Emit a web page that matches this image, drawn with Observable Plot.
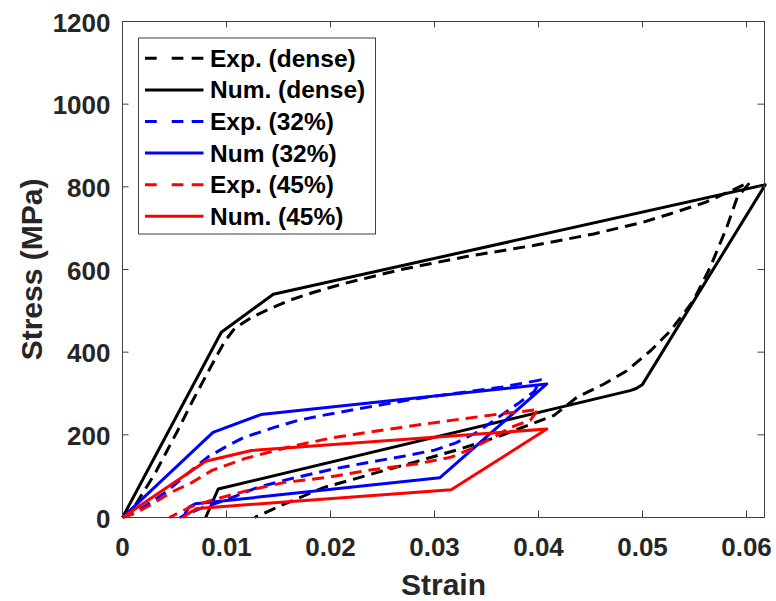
<!DOCTYPE html>
<html>
<head>
<meta charset="utf-8">
<script src="https://cdn.jsdelivr.net/npm/d3@7"></script>
<script src="https://cdn.jsdelivr.net/npm/@observablehq/plot@0.6"></script>
<style>
  html, body { margin: 0; padding: 0; background: #fff; }
  #wrap { position: relative; width: 776px; height: 601px; }
  #wrap svg { display: block; }
  #legend { position: absolute; left: 0; top: 0; pointer-events: none; }
</style>
</head>
<body>
<div id="wrap"></div>
<script>
// ---- data ----
const xTicks = [0, 0.01, 0.02, 0.03, 0.04, 0.05, 0.06];
const yTicks = [0, 200, 400, 600, 800, 1000, 1200];

const seriesNames = ["Exp. (dense)", "Num. (dense)", "Exp. (32%)", "Num (32%)", "Exp. (45%)", "Num. (45%)"];
const seriesColors = ["#000000", "#000000", "#0000ff", "#0000ff", "#ff0000", "#ff0000"];
const seriesDashed = [true, false, true, false, true, false];

const expDenseStrain = [0, 0.0008, 0.0032, 0.0053, 0.0068, 0.0085, 0.0098, 0.0108, 0.0124, 0.0140, 0.0160, 0.0184, 0.0213, 0.0268, 0.0332, 0.0395, 0.0453, 0.0500, 0.0527, 0.0560, 0.0585, 0.0598, 0.0603,
  0.0597, 0.0591, 0.0581, 0.0565, 0.0549, 0.0527, 0.0508, 0.0485, 0.0463, 0.0437, 0.0415, 0.0364, 0.0325, 0.0281, 0.0252, 0.0217, 0.0194, 0.0156, 0.0127];
const expDenseStress = [0, 12, 110, 210, 285, 365, 425, 458, 484, 503, 525, 545, 566, 600, 632, 658, 686, 714, 735, 762, 790, 806, 810,
  792, 774, 702, 605, 525, 452, 404, 355, 323, 291, 247, 198, 166, 134, 114, 89, 73, 33, 0];

const numDenseStrain = [0, 0.0095, 0.0145, 0.0618, 0.0500, 0.0494, 0.0488, 0.0092, 0.0080];
const numDenseStress = [0, 448, 540, 805, 322, 312, 307, 69, 0];

const exp32Strain = [0, 0.0020, 0.0042, 0.0062, 0.0082, 0.0100, 0.0117, 0.0146, 0.0169, 0.0188, 0.0236, 0.0281, 0.0325, 0.0364, 0.0396, 0.0402,
  0.0396, 0.0380, 0.0360, 0.0340, 0.0320, 0.0300, 0.0270, 0.0240, 0.0204, 0.0162, 0.0130, 0.0098, 0.0075, 0.0055];
const exp32Stress = [0, 25, 62, 105, 146, 172, 194, 218, 235, 245, 267, 287, 302, 315, 330, 333,
  305, 275, 240, 205, 180, 163, 148, 135, 118, 94, 73, 41, 22, 0];

const num32Strain = [0, 0.0087, 0.0133, 0.0408, 0.0305, 0.0070, 0.0064, 0.0058];
const num32Stress = [0, 206, 249, 323, 96, 33, 25, 0];

const exp45Strain = [0, 0.0010, 0.0026, 0.0047, 0.0067, 0.0086, 0.0117, 0.0159, 0.0200, 0.0233, 0.0268, 0.0316, 0.0364, 0.0396, 0.0400,
  0.0392, 0.0373, 0.0357, 0.0335, 0.0316, 0.0284, 0.0236, 0.0197, 0.0156, 0.0120, 0.0090, 0.0065, 0.0045];
const exp45Stress = [0, 8, 29, 61, 85, 114, 142, 170, 192, 205, 218, 235, 251, 260, 263,
  235, 218, 194, 166, 146, 130, 114, 97, 85, 65, 45, 25, 0];

const num45Strain = [0, 0.0080, 0.0124, 0.0408, 0.0316, 0.0072, 0.0066, 0.0058];
const num45Stress = [0, 136, 162, 214, 67, 22, 14, 0];

const strainLists = [expDenseStrain, numDenseStrain, exp32Strain, num32Strain, exp45Strain, num45Strain];
const stressLists = [expDenseStress, numDenseStress, exp32Stress, num32Stress, exp45Stress, num45Stress];

// ---- build ----
const W = 776, H = 601, mL = 122, mR = 12, mT = 21, mB = 84;
const innerW = W - mL - mR, innerH = H - mT - mB;
const tickLen = 6.5;
const axisColor = "#404040";
const textColor = "#262626";
const dashPattern = "12,7";
const fontStack = "'Liberation Sans', Arial, Helvetica, sans-serif";

const series = seriesNames.map((name, i) => ({
  name,
  color: seriesColors[i],
  dashed: seriesDashed[i],
  points: strainLists[i].map((s, j) => ({strain: s, stress: stressLists[i][j]}))
}));

const lineMarks = series.map(s => Plot.line(s.points, {
  x: "strain", y: "stress",
  stroke: s.color, strokeWidth: 3,
  strokeDasharray: s.dashed ? dashPattern : null,
  strokeLinejoin: "round", strokeLinecap: "butt"
}));

const chart = Plot.plot({
  width: W, height: H,
  marginLeft: mL, marginRight: mR, marginTop: mT, marginBottom: mB,
  style: {fontFamily: fontStack, background: "#fff", color: textColor},
  x: {domain: [0, 0.06173], label: null},
  y: {domain: [0, 1200], label: null},
  marks: [
    Plot.axisX(xTicks, {tickSize: 0, tickPadding: 20.5, fontSize: 26, fontWeight: "bold", fill: textColor, tickFormat: d => String(d), label: null}),
    Plot.axisY(yTicks, {tickSize: 0, tickPadding: 12, fontSize: 26, fontWeight: "bold", fill: textColor, dy: 2, tickFormat: d => String(d), label: null}),
    ...lineMarks,
    Plot.ruleX(xTicks, {x: d => d, insetTop: innerH - tickLen, stroke: axisColor, strokeWidth: 1}),
    Plot.ruleX(xTicks, {x: d => d, insetBottom: innerH - tickLen, stroke: axisColor, strokeWidth: 1}),
    Plot.ruleY(yTicks, {y: d => d, insetRight: innerW - tickLen, stroke: axisColor, strokeWidth: 1}),
    Plot.ruleY(yTicks, {y: d => d, insetLeft: innerW - tickLen, stroke: axisColor, strokeWidth: 1}),
    Plot.frame({stroke: axisColor, strokeWidth: 1}),
    Plot.text(["Strain"], {text: d => d, frameAnchor: "bottom", textAnchor: "middle", lineAnchor: "bottom", dy: 77, fontSize: 30, fontWeight: "bold", fill: textColor}),
    Plot.text(["Stress (MPa)"], {text: d => d, frameAnchor: "left", textAnchor: "middle", rotate: -90, lineAnchor: "bottom", dx: -80.5, fontSize: 30, fontWeight: "bold", fill: textColor})
  ]
});

const wrap = document.getElementById("wrap");
wrap.appendChild(chart);

// ---- legend overlay ----
const leg = d3.select(wrap).append("svg")
  .attr("id", "legend").attr("width", W).attr("height", H);
const box = {x: 138.5, y: 38, w: 237, h: 196};
leg.append("rect").attr("x", box.x).attr("y", box.y).attr("width", box.w).attr("height", box.h)
  .attr("fill", "#fff").attr("stroke", axisColor).attr("stroke-width", 1);
series.forEach((s, i) => {
  const y = 58.3 + i * 31.6;
  leg.append("line").attr("x1", 145).attr("x2", 203.5).attr("y1", y).attr("y2", y)
    .attr("stroke", s.color).attr("stroke-width", 3)
    .attr("stroke-dasharray", s.dashed ? "11.7,15,11.7,8.3,11.7" : null);
  leg.append("text").attr("x", 210).attr("y", y + 8.5)
    .attr("font-family", fontStack)
    .attr("font-size", 24.5).attr("font-weight", "bold").attr("fill", "#000")
    .text(s.name);
});
</script>
</body>
</html>
